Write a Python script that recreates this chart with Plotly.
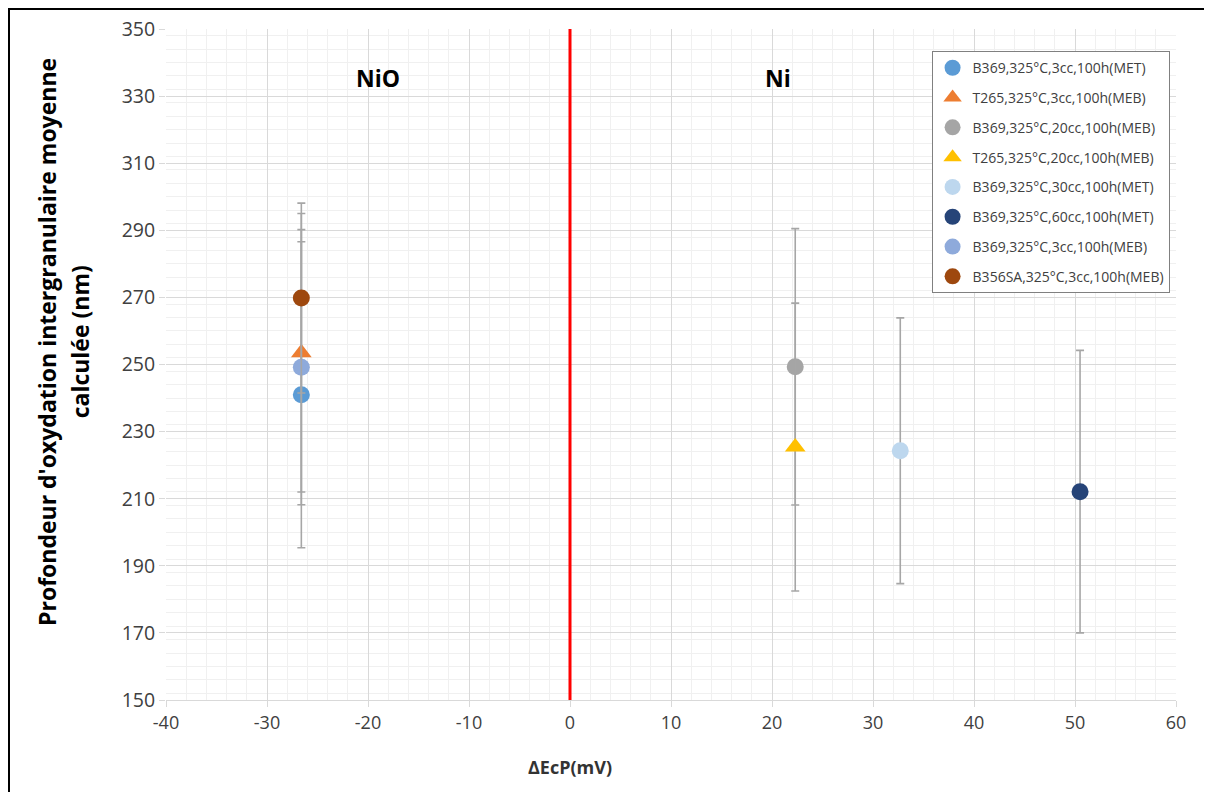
import plotly.graph_objects as go

names = [
    "B369,325°C,3cc,100h(MET)",
    "T265,325°C,3cc,100h(MEB)",
    "B369,325°C,20cc,100h(MEB)",
    "T265,325°C,20cc,100h(MEB)",
    "B369,325°C,30cc,100h(MET)",
    "B369,325°C,60cc,100h(MET)",
    "B369,325°C,3cc,100h(MEB)",
    "B356SA,325°C,3cc,100h(MEB)",
]
x_vals = [-26.6, -26.6, 22.3, 22.3, 32.7, 50.5, -26.6, -26.6]
y_vals = [241.0, 253.5, 249.3, 225.4, 224.3, 212.1, 249.2, 269.8]
err_vals = [45.6, 41.5, 41.2, 42.9, 39.6, 42.1, 41.0, 28.3]
colors = ["#5b9bd5", "#ed7d31", "#a5a5a5", "#ffc000", "#bdd7ee", "#264478", "#8eaadb", "#9e480e"]
symbols = ["circle", "triangle-up", "circle", "triangle-up", "circle", "circle", "circle", "circle"]

x_ticks = [-40, -30, -20, -10, 0, 10, 20, 30, 40, 50, 60]
y_ticks = [150, 170, 190, 210, 230, 250, 270, 290, 310, 330, 350]

y_title_lines = ["Profondeur d'oxydation intergranulaire moyenne", "calculée (nm)"]

fig = go.Figure()

# red separation line at ΔEcP = 0
fig.add_trace(go.Scatter(x=[0, 0], y=[y_ticks[0], y_ticks[-1]], mode="lines",
                         line=dict(color="#ff0000", width=3), showlegend=False, hoverinfo="skip"))

for i, n in enumerate(names):
    fig.add_trace(go.Scatter(
        x=[x_vals[i]], y=[y_vals[i]], mode="markers", name=n,
        legendgroup=str(i),
        marker=dict(color=colors[i], symbol=symbols[i], size=17 if symbols[i] == "circle" else 18,
                    line=dict(width=0)),
        error_y=dict(type="data", array=[err_vals[i]], color="#a6a6a6", thickness=1.6, width=4),
    ))

font_main = "Open Sans, DejaVu Sans, sans-serif"

fig.update_layout(
    width=1212, height=792,
    margin=dict(l=158, r=44, t=21, b=100, autoexpand=False),
    paper_bgcolor="white", plot_bgcolor="white",
    font=dict(family=font_main, color="#404040"),
    showlegend=True,
    legend=dict(x=0.758, y=0.967, xanchor="left", yanchor="top",
                bordercolor="#808080", borderwidth=1, bgcolor="white",
                font=dict(size=14, color="#404040"), tracegroupgap=8.6,
                itemwidth=30),
    xaxis=dict(range=[-40, 60], tickvals=x_ticks, ticktext=[str(v) for v in x_ticks],
               showgrid=True, gridcolor="#d9d9d9", gridwidth=1,
               minor=dict(dtick=2, showgrid=True, gridcolor="#f0f0f0", gridwidth=1),
               ticks="outside", ticklen=6, tickcolor="#d9d9d9",
               showline=True, linecolor="#d9d9d9", zeroline=False, automargin=False,
               tickfont=dict(size=18, color="#404040")),
    yaxis=dict(range=[150, 350], tickvals=y_ticks, ticktext=[str(v) for v in y_ticks],
               showgrid=True, gridcolor="#d9d9d9", gridwidth=1,
               minor=dict(dtick=4, showgrid=True, gridcolor="#f0f0f0", gridwidth=1),
               ticks="outside", ticklen=6, tickcolor="#d9d9d9",
               showline=False, zeroline=False, automargin=False,
               tickfont=dict(size=19.5, color="#404040")),
)

fig.add_annotation(x=-0.1185, y=0.534, xref="paper", yref="paper", xanchor="center", yanchor="middle",
                   text="<b>" + y_title_lines[0] + "</b>",
                   textangle=-90, showarrow=False, font=dict(size=23, color="#000000"))
fig.add_annotation(x=-0.0855, y=0.534, xref="paper", yref="paper", xanchor="center", yanchor="middle",
                   text="<b>" + y_title_lines[1] + "</b>",
                   textangle=-90, showarrow=False, font=dict(size=23, color="#000000"))
fig.add_annotation(x=-19, y=335.5, xref="x", yref="y", text="<b>NiO</b>", showarrow=False,
                   font=dict(size=23, color="#000000"))
fig.add_annotation(x=20.6, y=335.5, xref="x", yref="y", text="<b>Ni</b>", showarrow=False,
                   font=dict(size=23, color="#000000"))
fig.add_annotation(x=0.0, y=-0.1, xref="x", yref="paper", yanchor="middle",
                   text="<b>ΔEcP(mV)</b>", showarrow=False,
                   font=dict(size=18, color="#333333"))

# outer chart frame
fig.add_shape(type="rect", xref="paper", yref="paper",
              x0=-157/1010, x1=1.05, y0=-0.2, y1=1 + 20/671,
              line=dict(color="#000000", width=2), fillcolor="rgba(0,0,0,0)", layer="below")

fig.write_html("out.html")
